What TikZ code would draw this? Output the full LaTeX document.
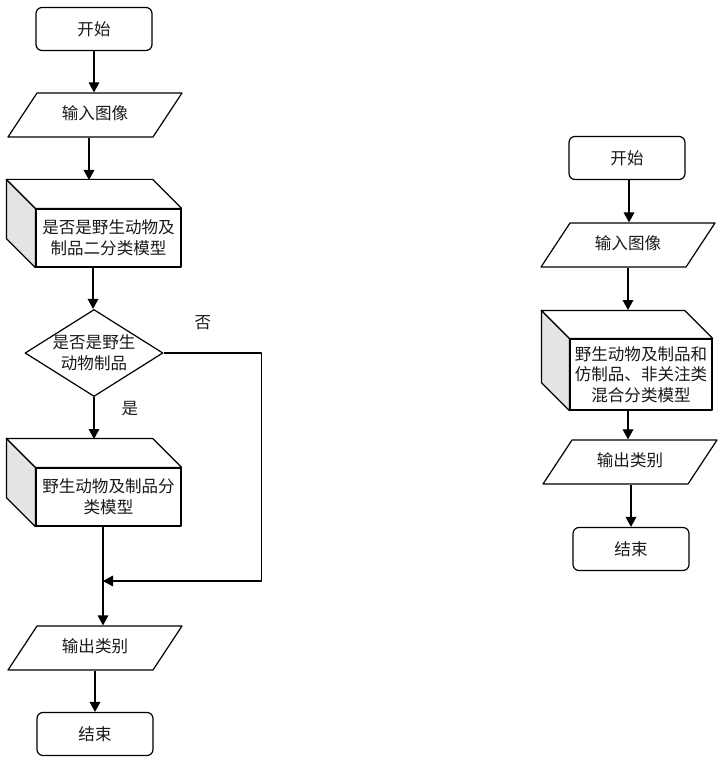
\documentclass[tikz,border=0pt]{standalone}
\usepackage{fontspec}
\usepackage{tikz}
\usetikzlibrary{arrows.meta,calc,shapes.geometric}
\newfontfamily\cjk{Noto Sans CJK SC}
\definecolor{flowline}{RGB}{0,0,0}
\definecolor{cubeside}{RGB}{228,228,228}
\definecolor{flowtext}{RGB}{25,25,25}

\tikzset{
  startstop/.style={draw, rounded corners=4.5pt, minimum width=87pt, minimum height=32.25pt, fill=white},
  io/.style={trapezium, trapezium left angle=56.6, trapezium right angle=123.4,
    trapezium stretches body, draw, minimum width=130.5pt, text height=9.5pt, text depth=2.9pt,
    inner xsep=0pt, inner ysep=10.3pt},
  modelface/.style={draw, fill=white, minimum width=108.75pt, minimum height=43.5pt, align=center, inner sep=1pt},
  cubeface/.style={draw, line join=round},
  decision/.style={diamond, draw, minimum width=103.5pt, minimum height=65.25pt, inner sep=0pt},
  branchlbl/.style={inner sep=0pt},
  flow/.style={draw=flowline, -{Triangle[length=7.5pt,width=8pt]}}
}

\begin{document}
\begin{tikzpicture}[x=0.75pt, y=-0.75pt, line width=0.9pt, line join=round,
  font=\cjk\fontsize{12.4}{15.5}\selectfont, text=flowtext]
  \path[use as bounding box] (0,0) rectangle (726,766);

  % left flow: two-stage classification
  \node[startstop] (s1) at (94,29) {开始};
  \node[io] (in1) at (95,115) {输入图像};
  \node[modelface] (m1) at (108.5,238) {是否是野生动物及\\制品二分类模型};
  \draw[cubeface, fill=cubeside] (m1.north west) -- ++(-29,-29) -- ($(m1.south west)+(-29,-29)$) -- (m1.south west) -- cycle;
  \draw[cubeface, fill=white] (m1.north west) -- ++(-29,-29) -- ($(m1.north east)+(-29,-29)$) -- (m1.north east) -- cycle;
  \coordinate (m1top) at (89,180);
  \coordinate (m1out) at (93,267);
  \node[decision, label={[align=center, inner sep=0pt]center:是否是野生\\动物制品}] (dec) at (94,353) {};
  \node[branchlbl] (lblno) at (203,323) {否};
  \node[branchlbl] (lblyes) at (130,409) {是};
  \node[modelface] (m2) at (108.5,497) {野生动物及制品分\\类模型};
  \draw[cubeface, fill=cubeside] (m2.north west) -- ++(-29,-29) -- ($(m2.south west)+(-29,-29)$) -- (m2.south west) -- cycle;
  \draw[cubeface, fill=white] (m2.north west) -- ++(-29,-29) -- ($(m2.north east)+(-29,-29)$) -- (m2.north east) -- cycle;
  \coordinate (m2top) at (93,439);
  \coordinate (mrg) at (103,581);
  \node[io] (out1) at (95,648) {输出类别};
  \node[startstop] (e1) at (95,734) {结束};

  \draw[flow] (s1.south) -- (s1.south |- in1.north);
  \draw[flow] (m1top |- in1.south) -- (m1top);
  \draw[flow] (m1out) -- (m1out |- dec.north);
  \draw[flow] (dec.south) -- (dec.south |- m2top);
  \draw[flow] (dec.east) -- ++(98,0) |- (mrg);
  \draw[flow] (mrg |- m2.south) -- (mrg |- out1.north);
  \draw[flow] (out1.south) -- (out1.south |- e1.north);

  % right flow: single mixed classifier
  \node[startstop] (s2) at (627,158) {开始};
  \node[io] (in2) at (628,245) {输入图像};
  \node[modelface, minimum width=106.5pt, minimum height=53.25pt] (m3) at (641,374.5) {野生动物及制品和\\仿制品、非关注类\\混合分类模型};
  \draw[cubeface, fill=cubeside] (m3.north west) -- ++(-28,-28) -- ($(m3.south west)+(-28,-28)$) -- (m3.south west) -- cycle;
  \draw[cubeface, fill=white] (m3.north west) -- ++(-28,-28) -- ($(m3.north east)+(-28,-28)$) -- (m3.north east) -- cycle;
  \coordinate (s2out) at (629,180);
  \coordinate (m3top) at (628,310);
  \node[io] (out2) at (630,462) {输出类别};
  \node[startstop] (e2) at (631,549) {结束};

  \draw[flow] (s2out) -- (s2out |- in2.north);
  \draw[flow] (m3top |- in2.south) -- (m3top);
  \draw[flow] (m3top |- m3.south) -- (m3top |- out2.north);
  \draw[flow] (out2.south -| e2) -- (e2.north);

\end{tikzpicture}
\end{document}
